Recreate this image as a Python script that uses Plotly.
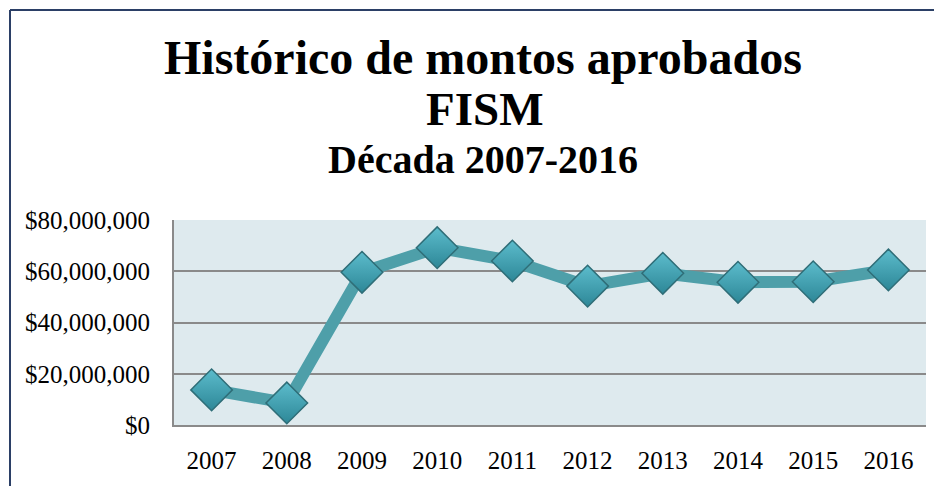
import plotly.graph_objects as go

years = ["2007", "2008", "2009", "2010", "2011", "2012", "2013", "2014", "2015", "2016"]
montos = [13.7e6, 8.6e6, 59.6e6, 69.2e6, 64.0e6, 54.2e6, 59.2e6, 55.7e6, 55.9e6, 60.5e6]
y_ticks = [0, 20e6, 40e6, 60e6, 80e6]
y_tick_labels = ["$0", "$20,000,000", "$40,000,000", "$60,000,000", "$80,000,000"]

OFF = 8  # default page body margin
W, H = 942 - OFF, 486 - OFF
L, T = 174 - OFF, 220 - OFF
R = W - (926 - OFF)
B = H - (425 - OFF)
pw, ph = W - L - R, H - T - B


def py(y_ref):
    """reference pixel row -> paper y"""
    return (H - B - (y_ref - OFF)) / ph


def px(x_ref):
    return ((x_ref - OFF) - L) / pw


fig = go.Figure()
fig.add_trace(go.Scatter(
    x=years, y=montos, mode="lines+markers",
    line=dict(color="#4e9fa9", width=12),
    marker=dict(symbol="diamond", size=32, color="#5cbccc",
                gradient=dict(type="vertical", color="#2d8797"),
                line=dict(color="#2f6e78", width=1.5)),
    showlegend=False, hoverinfo="x+y",
))

font_serif = "Liberation Serif, Times New Roman, serif"
cx_shift = (483 - OFF) - (L + pw / 2)

fig.update_layout(
    width=W, height=H,
    margin=dict(l=L, r=R, t=T, b=B),
    paper_bgcolor="white",
    plot_bgcolor="#deeaee",
    font=dict(family=font_serif, color="black"),
    xaxis=dict(
        type="category", range=[-0.5, len(years) - 0.5],
        showgrid=False, showline=True, linecolor="#8a8a8a", linewidth=2,
        ticks="", tickfont=dict(size=25, family=font_serif, color="black"),
        ticklabelstandoff=12,
    ),
    yaxis=dict(
        range=[0, 80e6], tickvals=y_ticks, ticktext=y_tick_labels,
        showgrid=True, gridcolor="#8a8a8a", gridwidth=2,
        showline=True, linecolor="#8a8a8a", linewidth=2,
        zeroline=False, ticks="",
        tickfont=dict(size=25, family=font_serif, color="black"),
        ticklabelstandoff=17,
    ),
    annotations=[
        dict(text="<b>Histórico de montos aprobados</b>", x=0.5, xref="paper",
             y=py(57), yref="paper", xanchor="center", yanchor="middle",
             showarrow=False, font=dict(size=48, family=font_serif, color="black"),
             xshift=cx_shift),
        dict(text="<b>FISM</b>", x=0.5, xref="paper",
             y=py(109), yref="paper", xanchor="center", yanchor="middle",
             showarrow=False, font=dict(size=47, family=font_serif, color="black"),
             xshift=cx_shift + 2),
        dict(text="<b>Década 2007-2016</b>", x=0.5, xref="paper",
             y=py(159), yref="paper", xanchor="center", yanchor="middle",
             showarrow=False, font=dict(size=40, family=font_serif, color="black"),
             xshift=cx_shift),
    ],
    shapes=[
        dict(type="line", xref="paper", yref="paper",
             x0=px(10), x1=px(960), y0=py(10), y1=py(10),
             line=dict(color="#2b3f66", width=2)),
        dict(type="line", xref="paper", yref="paper",
             x0=px(10), x1=px(10), y0=py(10), y1=py(500),
             line=dict(color="#2b3f66", width=2)),
    ],
)

fig.write_html("out.html")
